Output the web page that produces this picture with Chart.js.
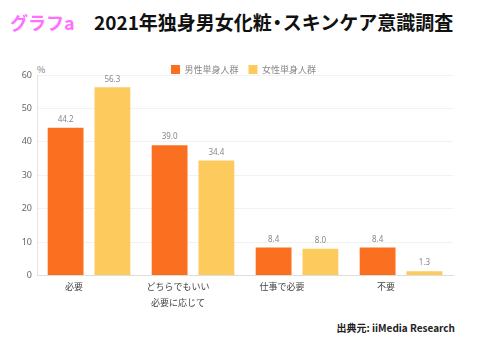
<!DOCTYPE html>
<html>
<head>
<meta charset="utf-8">
<script src="https://cdn.jsdelivr.net/npm/chart.js@4.4.1/dist/chart.umd.min.js"></script>
<style>
  html, body { margin: 0; padding: 0; background: #fff; }
  body { width: 484px; height: 356px; position: relative; overflow: hidden; font-family: "Noto Sans CJK JP", "Noto Sans", sans-serif; }
  #brand { position: absolute; left: 10px; top: 9px; font-size: 18px; font-weight: bold; color: #ff70ff; }
  #title { position: absolute; left: 94px; top: 8px; font-size: 19px; font-weight: bold; color: #111; white-space: nowrap; }
  #title .dot { margin: 0 -4px; }
  #unit { position: absolute; left: 37px; top: 63px; font-size: 9px; color: #777; }
  #source { position: absolute; right: 29px; top: 320px; font-size: 10px; font-weight: bold; color: #222; white-space: nowrap; }
  #wrap { position: absolute; left: 0; top: 53px; width: 484px; height: 260px; }
</style>
</head>
<body>
<div id="brand">グラフa</div>
<div id="title">2021年独身男女化粧<span class="dot">・</span>スキンケア意識調査</div>
<div id="unit">%</div>
<div id="source">出典元: iiMedia Research</div>
<div id="wrap"><canvas id="c"></canvas></div>
<script>
const categories = ["必要", ["どちらでもいい", "必要に応じて"], "仕事で必要", "不要"];
const seriesNames = ["男性単身人群", "女性単身人群"];
const maleValues = [44.2, 39.0, 8.4, 8.4];
const femaleValues = [56.3, 34.4, 8.0, 1.3];
const yTicks = [0, 10, 20, 30, 40, 50, 60];

const barLabels = {
  id: 'barLabels',
  afterDatasetsDraw(chart) {
    const ctx = chart.ctx;
    ctx.save();
    ctx.font = '8px "Noto Sans", sans-serif';
    ctx.fillStyle = '#888';
    ctx.textAlign = 'center';
    ctx.textBaseline = 'middle';
    chart.data.datasets.forEach((ds, i) => {
      chart.getDatasetMeta(i).data.forEach((bar, j) => {
        ctx.fillText(ds.data[j].toFixed(1), bar.x, bar.y - 8);
      });
    });
    ctx.restore();
  }
};

// legend: drop the built-in bottom margin and nudge it to the right
const legendTight = {
  id: 'legendTight',
  afterInit(chart) {
    const lg = chart.legend;
    if (!lg) return;
    const orig = lg.fit;
    lg.fit = function () {
      orig.call(this);
      if (this.isHorizontal()) this.height = Math.max(this.height - 9, 0);
    };
  },
  afterLayout(chart) {
    const lg = chart.legend;
    if (!lg) return;
    lg.left += 6.5;
    lg.right += 6.5;
  }
};

new Chart(document.getElementById('c'), {
  type: 'bar',
  data: {
    labels: categories,
    datasets: [
      { label: seriesNames[0], data: maleValues, backgroundColor: '#fa7020' },
      { label: seriesNames[1], data: femaleValues, backgroundColor: '#fdca5e' }
    ]
  },
  options: {
    responsive: true,
    maintainAspectRatio: false,
    animation: false,
    layout: { padding: { left: 21, right: 31, top: 2, bottom: 0 } },
    plugins: {
      legend: {
        position: 'top',
        labels: {
          boxWidth: 9, boxHeight: 9, padding: 10,
          color: '#888',
          font: { size: 9, family: '"Noto Sans CJK JP", sans-serif' }
        }
      },
      tooltip: { enabled: false }
    },
    datasets: { bar: { categoryPercentage: 0.9, barPercentage: 0.766 } },
    scales: {
      x: {
        grid: { display: false, drawTicks: false },
        border: { color: '#ddd' },
        ticks: { color: '#444', padding: 3, labelOffset: -15, font: { size: 9, lineHeight: 1.75, family: '"Noto Sans CJK JP", sans-serif' }, maxRotation: 0, autoSkip: false }
      },
      y: {
        min: 0, max: 60,
        afterBuildTicks(axis) { axis.ticks = yTicks.map(v => ({ value: v })); },
        afterFit(axis) { axis.width = 16; },
        grid: { color: '#f2f2f2', drawTicks: false },
        border: { color: '#e4e4e4' },
        ticks: { color: '#666', padding: 5, font: { size: 9, family: '"Noto Sans", sans-serif' } }
      }
    }
  },
  plugins: [barLabels, legendTight]
});
</script>
</body>
</html>
